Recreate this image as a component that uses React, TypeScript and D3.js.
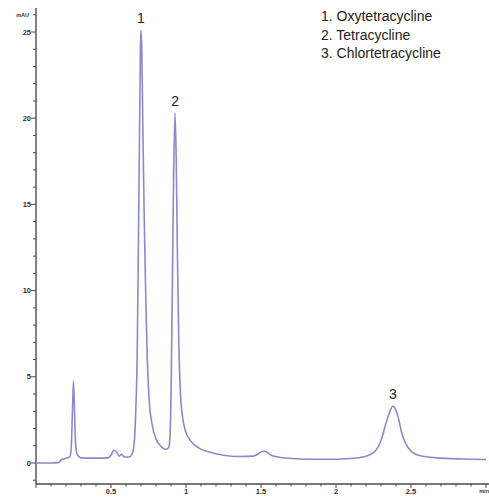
import React from "react";
import * as d3 from "d3";

// Retention time (min) and detector signal (mAU) of the chromatogram trace
const times: number[] = [
  0, 0.1, 0.15, 0.17, 0.19, 0.21, 0.225, 0.235, 0.243, 0.25, 0.257, 0.263, 0.275, 0.3,
  0.4, 0.48, 0.5, 0.52, 0.54, 0.555, 0.57, 0.59, 0.62, 0.64, 0.655, 0.665, 0.675, 0.683,
  0.69, 0.696, 0.7, 0.705, 0.713, 0.722, 0.732, 0.742, 0.755, 0.775, 0.8, 0.83, 0.865,
  0.885, 0.893, 0.902, 0.91, 0.918, 0.927, 0.935, 0.943, 0.952, 0.962, 0.975, 0.995,
  1.03, 1.09, 1.15, 1.25, 1.35, 1.45, 1.52, 1.58, 1.65, 1.8, 2.0, 2.15, 2.25, 2.3, 2.34,
  2.38, 2.41, 2.44, 2.48, 2.55, 2.7, 2.9, 3.0,
];
const signal: number[] = [
  0, 0, 0.02, 0.2, 0.25, 0.3, 0.35, 0.9, 3.0, 4.75, 3.0, 1.2, 0.5, 0.3,
  0.28, 0.3, 0.45, 0.75, 0.6, 0.4, 0.5, 0.35, 0.35, 0.5, 1.2, 3.0, 6.5, 13,
  19, 24, 25.1, 24, 19, 14, 9.5, 6.0, 3.6, 2.2, 1.4, 1.0, 0.8,
  0.9, 1.5, 5, 11, 17, 20.3, 17.5, 12, 7, 4.2, 2.8, 1.9,
  1.3, 0.85, 0.65, 0.45, 0.38, 0.4, 0.7, 0.4, 0.3, 0.22, 0.22, 0.3, 0.6, 1.3, 2.5,
  3.3, 2.8, 1.7, 0.9, 0.45, 0.28, 0.22, 0.2,
];

// Peak annotations
const peakNumbers: string[] = ["1", "2", "3"];
const peakTimes: number[] = [0.7, 0.927, 2.38];
const peakHeights: number[] = [25.1, 20.3, 3.3];

const legendItems: string[] = ["1. Oxytetracycline", "2. Tetracycline", "3. Chlortetracycline"];

const xTickValues: number[] = [0.5, 1, 1.5, 2, 2.5];
const xTickLabels: string[] = ["0.5", "1", "1.5", "2", "2.5"];
const yTickValues: number[] = [0, 5, 10, 15, 20, 25];
const yTickLabels: string[] = ["0", "5", "10", "15", "20", "25"];

const W = 489;
const H = 497;
const axisX = 36;
const axisY = 484;

export default function App() {
  const x = d3.scaleLinear().domain([0, 3]).range([axisX, 486]);
  const y = d3.scaleLinear().domain([0, 25]).range([463, 32]);

  const pts: [number, number][] = times.map((t, i) => [t, signal[i]]);
  const line = d3
    .line<[number, number]>()
    .x((d) => x(d[0]))
    .y((d) => y(d[1]))
    .curve(d3.curveMonotoneX);

  const yMinor = d3.range(-1, 27, 1);
  const xMinor = d3.range(0, 3.001, 0.1);
  const axisColor = "#4a4a4a";
  const tickFont = "'Liberation Sans', Arial, sans-serif";

  return (
    <svg
      width={W}
      height={H}
      style={{ position: "absolute", left: 0, top: 0, background: "#fff" }}
    >
      {/* y axis */}
      <line x1={axisX} x2={axisX} y1={8} y2={axisY} stroke={axisColor} strokeWidth={1.4} />
      {yMinor.map((v) => (
        <line
          key={"ym" + v}
          x1={axisX - (v % 5 === 0 ? 5 : 3)}
          x2={axisX}
          y1={y(v)}
          y2={y(v)}
          stroke={axisColor}
          strokeWidth={1}
        />
      ))}
      {yTickValues.map((v, i) => (
        <text
          key={"yl" + v}
          x={31}
          y={y(v)}
          dy="0.35em"
          textAnchor="end"
          fontFamily={tickFont}
          fontWeight="bold"
          fontSize={7.5}
          fill="#333"
        >
          {yTickLabels[i]}
        </text>
      ))}
      <text x={29} y={y(26)} dy="0.35em" textAnchor="end" fontFamily={tickFont} fontWeight="bold" fontSize={5.5} fill="#333">
        mAU
      </text>

      {/* x axis */}
      <line x1={axisX} x2={489} y1={axisY} y2={axisY} stroke={axisColor} strokeWidth={1.4} />
      {xMinor.map((v, i) => (
        <line
          key={"xm" + i}
          x1={x(v)}
          x2={x(v)}
          y1={axisY}
          y2={axisY + (i % 5 === 0 ? 4 : 2.5)}
          stroke={axisColor}
          strokeWidth={1}
        />
      ))}
      {xTickValues.map((v, i) => (
        <text
          key={"xl" + v}
          x={x(v)}
          y={494}
          textAnchor="middle"
          fontFamily={tickFont}
          fontWeight="bold"
          fontSize={7.5}
          fill="#333"
        >
          {xTickLabels[i]}
        </text>
      ))}
      <text x={489} y={493} textAnchor="end" fontFamily={tickFont} fontWeight="bold" fontSize={5.5} fill="#333">
        min
      </text>

      {/* trace */}
      <path d={line(pts) ?? ""} fill="none" stroke="#8a8acb" strokeWidth={1.6} strokeLinejoin="round" />

      {/* peak numbers */}
      {peakNumbers.map((p, i) => (
        <text
          key={"pk" + p}
          x={x(peakTimes[i])}
          y={y(peakHeights[i]) - 7}
          textAnchor="middle"
          fontFamily={tickFont}
          fontSize={14}
          fill="#222"
        >
          {p}
        </text>
      ))}

      {/* legend */}
      {legendItems.map((s, i) => (
        <text key={"lg" + i} x={321} y={21 + i * 18.5} fontFamily={tickFont} fontSize={14} fill="#222">
          {s}
        </text>
      ))}
    </svg>
  );
}
